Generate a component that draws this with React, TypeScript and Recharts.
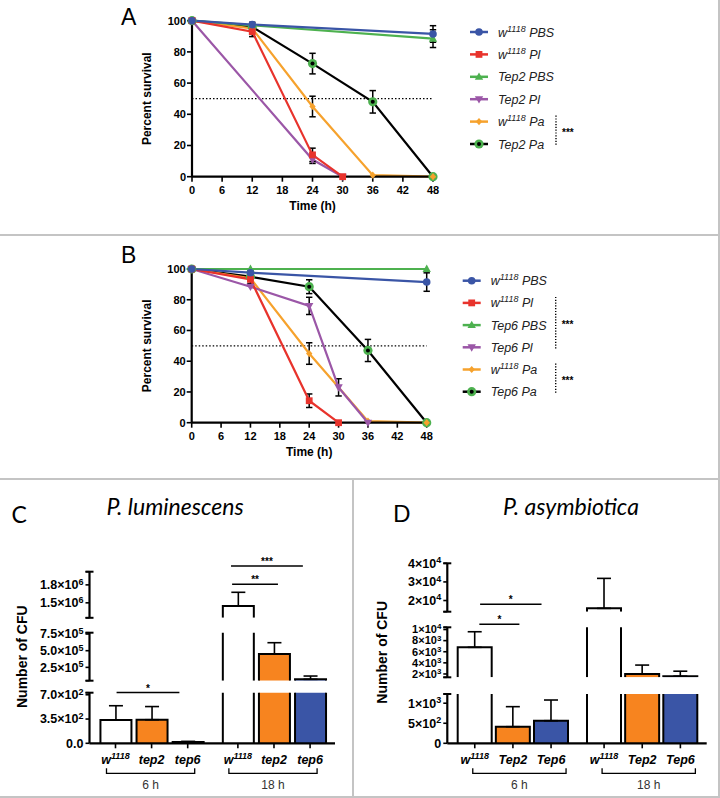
import React from 'react';
import { LineChart, Line, XAxis, YAxis, ErrorBar, ReferenceLine, BarChart, Bar } from 'recharts';

const FONT = '"Liberation Sans", Arial, Helvetica, sans-serif';
const SOFT_FONT = 'Lato, "Open Sans", sans-serif';

// ---------- survival (A, B) ----------
const timePoints = [0, 12, 24, 30, 36, 48];
const timeTicks = [0, 6, 12, 18, 24, 30, 36, 42, 48];
const survivalTicks = [0, 20, 40, 60, 80, 100];
const halfSurvival = 50;

const aNames = ['w1118 PBS', 'w1118 Pl', 'Tep2 PBS', 'Tep2 Pl', 'w1118 Pa', 'Tep2 Pa'];
const aSurvival = [
  [100, 97.5, null, null, null, 91.5],
  [100, 93, 14, 0, null, null],
  [100, 97, null, null, null, 88.5],
  [100, null, 11, 0, null, null],
  [100, 95, 45, null, 1, 0],
  [100, 96, 72.5, null, 48, 0],
];
const aSem = [
  [0, 1.5, 0, 0, 0, 5.3],
  [0, 3.2, 4.3, 0, 0, 0],
  [0, 0, 0, 0, 0, 5.7],
  [0, 0, 2.5, 0, 0, 0],
  [0, 0, 6.6, 0, 0, 0],
  [0, 1.5, 6.6, 0, 7.2, 0],
];

const bNames = ['w1118 PBS', 'w1118 Pl', 'Tep6 PBS', 'Tep6 Pl', 'w1118 Pa', 'Tep6 Pa'];
const bSurvival = [
  [100, 97.6, null, null, null, 91.5],
  [100, 93.3, 14.3, 0, null, null],
  [100, 100, null, null, null, 100],
  [100, 88.5, 76, 23, 0, null],
  [100, 94, 45, null, 1, 0],
  [100, 95, 88.5, null, 47, 0],
];
const bSem = [
  [0, 1.2, 0, 0, 0, 6],
  [0, 2.7, 4.4, 0, 0, 0],
  [0, 0, 0, 0, 0, 0],
  [0, 0, 5.6, 5.6, 0, 0],
  [0, 0, 7, 0, 0, 0],
  [0, 1.5, 4.5, 0, 7.2, 0],
];

const seriesColors = ['#3a55a6', '#e8332c', '#4db14f', '#9b57a7', '#f6a22d', '#000000'];
const seriesShapes = ['circle', 'square', 'tri', 'tridown', 'diamond', 'ring'];

// ---------- CFU (C, D) ----------
const barSlots = [0, 1, 2, 3.39, 4.39, 5.39];
const slotDomain = [-0.72, 6.08];
const timeGroups = ['6 h', '18 h'];
const barColors = ['#ffffff', '#f7841f', '#3a55a6'];

const cLabels = ['w1118', 'tep2', 'tep6', 'w1118', 'tep2', 'tep6'];
const cMeans = [336, 340, 20, 1.447e6, 4.5e5, 7.1e4];
const cSem = [206, 190, 8, 2.29e5, 1.7e5, 4.9e4];
const cTopDomain = [1.25e6, 2.02e6];
const cTopTicks = [1.5e6, 1.8e6];
const cMidDomain = [5e4, 7.7e5];
const cMidTicks = [2.5e5, 5e5, 7.5e5];
const cLowDomain = [0, 730];
const cLowTicks = [0, 350, 700];
const cSignif = [
  { from: 0.03, to: 1.77, level: 732, stars: '*', seg: 2 },
  { from: 3.23, to: 4.5, level: 1.81e6, stars: '**', seg: 0 },
  { from: 3.2, to: 5.19, level: 2.115e6, stars: '***', seg: 0 },
];

const dLabels = ['w1118', 'Tep2', 'Tep6', 'w1118', 'Tep2', 'Tep6'];
const dMeans = [6800, 414, 564, 15800, 2000, 1600];
const dSem = [2800, 500, 516, 16100, 1600, 900];
const dTopDomain = [1.4e4, 4e4];
const dTopTicks = [2e4, 3e4, 4e4];
const dMidDomain = [1400, 10400];
const dMidTicks = [2000, 4000, 6000, 8000, 10000];
const dLowDomain = [0, 1230];
const dLowTicks = [0, 500, 1000];
const dSignif = [
  { from: 0.14, to: 1.75, level: 1.8e4, stars: '*', seg: 0 },
  { from: 0.12, to: 1.17, level: 10940, stars: '*', seg: 1 },
];

// ---------- helpers ----------
function nameParts(n: string) {
  return n.startsWith('w1118') ? ['w', '1118', n.slice(5)] : [n, '', ''];
}

function Marker({ shape, cx, cy, color }: any) {
  if (cx == null || cy == null || Number.isNaN(cy)) return <g />;
  switch (shape) {
    case 'circle':
      return <circle cx={cx} cy={cy} r={3.8} fill={color} />;
    case 'square':
      return <rect x={cx - 3.4} y={cy - 3.4} width={6.8} height={6.8} fill={color} />;
    case 'tri':
      return <polygon points={`${cx},${cy - 4.4} ${cx + 4.2},${cy + 3} ${cx - 4.2},${cy + 3}`} fill={color} />;
    case 'tridown':
      return <polygon points={`${cx},${cy + 4.4} ${cx + 4.2},${cy - 3} ${cx - 4.2},${cy - 3}`} fill={color} />;
    case 'diamond':
      return <polygon points={`${cx},${cy - 3.6} ${cx + 3.2},${cy} ${cx},${cy + 3.6} ${cx - 3.2},${cy}`} fill={color} />;
    default:
      return (
        <g>
          <circle cx={cx} cy={cy} r={4.6} fill="#4db14f" />
          <circle cx={cx} cy={cy} r={2} fill="#000" />
        </g>
      );
  }
}

function SurvivalChart({ top, height, plot, survival, sem }: any) {
  const data = timePoints.map((t, i) => {
    const row: any = { t };
    survival.forEach((s: any[], k: number) => {
      row['s' + k] = s[i];
      row['e' + k] = s[i] == null ? null : sem[k][i];
    });
    return row;
  });
  const yAxisW = 60;
  const xAxisH = 33;
  const margin = {
    top: plot.top - top,
    left: plot.left - yAxisW,
    right: 720 - plot.right,
    bottom: top + height - plot.bottom - xAxisH,
  };
  const tickStyle = { fill: '#000', fontSize: 11, fontWeight: 700, fontFamily: FONT };
  const order = [5, 4, 3, 2, 1, 0];
  return (
    <div style={{ position: 'absolute', left: 0, top }}>
      <LineChart width={720} height={height} data={data} margin={margin}>
        <XAxis
          type="number"
          dataKey="t"
          domain={[0, 48]}
          ticks={timeTicks}
          interval={0}
          height={xAxisH}
          tickSize={5}
          tickMargin={4}
          axisLine={{ stroke: '#000', strokeWidth: 2.2 }}
          tickLine={{ stroke: '#000', strokeWidth: 1.6 }}
          tick={tickStyle}
          label={{ value: 'Time (h)', position: 'insideBottom', offset: 0, style: { fontSize: 12, fontWeight: 700, fill: '#000', fontFamily: FONT } }}
        />
        <YAxis
          type="number"
          domain={[0, 100]}
          ticks={survivalTicks}
          interval={0}
          width={yAxisW}
          tickSize={5}
          tickMargin={1}
          axisLine={{ stroke: '#000', strokeWidth: 2.2 }}
          tickLine={{ stroke: '#000', strokeWidth: 1.6 }}
          tick={tickStyle}
          label={{ value: 'Percent survival', angle: -90, position: 'insideLeft', offset: 14.7, style: { textAnchor: 'middle', fontSize: 12, fontWeight: 700, fill: '#000', fontFamily: FONT } }}
        />
        <ReferenceLine y={halfSurvival} stroke="#000" strokeWidth={1.3} strokeDasharray="1.5 2" />
        {order.map((k) => (
          <Line
            key={k}
            dataKey={'s' + k}
            type="linear"
            stroke={seriesColors[k]}
            strokeWidth={2.2}
            connectNulls
            isAnimationActive={false}
            dot={(p: any) => <Marker key={`m${k}-${p.index}`} shape={seriesShapes[k]} cx={p.cx} cy={p.cy} color={seriesColors[k]} />}
          >
            <ErrorBar dataKey={'e' + k} width={3.2} strokeWidth={1.5} stroke="#000" direction="y" />
          </Line>
        ))}
      </LineChart>
    </div>
  );
}

function SurvivalLegend({ names, x, y, step, brackets, bracketX }: any) {
  return (
    <g>
      {names.map((n: string, i: number) => {
        const [a, sup, rest] = nameParts(n);
        const cy = y + i * step;
        return (
          <g key={i}>
            <line x1={x} x2={x + 18} y1={cy} y2={cy} stroke={seriesColors[i]} strokeWidth={2.5} />
            <Marker shape={seriesShapes[i]} cx={x + 9} cy={cy} color={seriesColors[i]} />
            <text x={x + 28} y={cy + 4.5} fontSize={12.5} fontStyle="italic" fontFamily={FONT} fill="#222">
              {a}
              {sup && (
                <tspan dy={-5} fontSize={9}>
                  {sup}
                </tspan>
              )}
              {sup ? <tspan dy={5}>{rest}</tspan> : null}
            </text>
          </g>
        );
      })}
      {brackets.map((b: any, i: number) => {
        const y1 = y + b[0] * step - 6;
        const y2 = y + b[1] * step + 2;
        return (
          <g key={'b' + i}>
            <line x1={bracketX} x2={bracketX} y1={y1} y2={y2} stroke="#000" strokeWidth={1.4} strokeDasharray="1.2 1.6" />
            <text x={bracketX + 6} y={(y1 + y2) / 2 + 5} fontSize={10} fontWeight={700} fontFamily={FONT} fill="#000">
              ***
            </text>
          </g>
        );
      })}
    </g>
  );
}

function sci(v: number, decimals: number) {
  if (v === 0) return { m: (0).toFixed(decimals), e: null as number | null };
  const e = Math.floor(Math.log10(v) + 1e-9);
  return { m: (v / Math.pow(10, e)).toFixed(decimals), e };
}

function CfuYTick({ x, y, payload, labelled, ends, decimals, fs }: any) {
  const v = payload.value;
  const ax = x + 6;
  const isEnd = ends.includes(v) && v !== 0;
  const s = sci(v, decimals);
  return (
    <g>
      {isEnd && <line x1={ax - 4} x2={ax + 4} y1={y} y2={y} stroke="#000" strokeWidth={2} />}
      {labelled.includes(v) && (
        <text x={x} y={y + fs * 0.35} textAnchor="end" fontSize={fs} fontWeight={700} fontFamily={FONT} fill="#000">
          {s.m}
          {s.e !== null && '×10'}
          {s.e !== null && (
            <tspan dy={-fs * 0.36} fontSize={fs * 0.72}>
              {s.e}
            </tspan>
          )}
        </text>
      )}
    </g>
  );
}

function CfuXTick({ x, y, index, labels, unitPx, bracket }: any) {
  const [a, sup] = nameParts(labels[index]);
  const group = index % 3 === 1 ? timeGroups[Math.floor(index / 3)] : null;
  const bl = x - unitPx + bracket[0];
  const br = x + unitPx + bracket[1];
  return (
    <g>
      <text x={x} y={y + 14} textAnchor="middle" fontSize={12.5} fontStyle="italic" fontWeight={700} fontFamily={FONT} fill="#000">
        {a}
        {sup && (
          <tspan dy={-5} fontSize={9}>
            {sup}
          </tspan>
        )}
      </text>
      {group && (
        <g>
          <path d={`M${bl},${y + 18} V${y + 23} H${br} V${y + 18}`} fill="none" stroke="#000" strokeWidth={1.3} />
          <text x={(bl + br) / 2} y={y + 39} textAnchor="middle" fontSize={12} fontFamily={FONT} fill="#333">
            {group}
          </text>
        </g>
      )}
    </g>
  );
}

function OpenBar(p: any) {
  const { x, y, width, height, value, payload } = p;
  if (value == null || height == null || Number.isNaN(y) || height <= 0) return <g />;
  const idx = barSlots.indexOf(payload?.slot);
  const fill = barColors[(idx < 0 ? 0 : idx) % 3];
  return (
    <g>
      <rect x={x} y={y} width={width} height={height} fill={fill} />
      <path d={`M${x},${y + height} V${y} H${x + width} V${y + height}`} fill="none" stroke="#000" strokeWidth={2} />
    </g>
  );
}

function CfuPanel({ left, width, plotLeft, plotRight, barSize, labels, means, sem, segs, signif, decimals, bracket, yLabelOffset, tickFont }: any) {
  const top = 479;
  const height = 319;
  const yAxisW = 80;
  const xAxisH = 50;
  const unitPx = (plotRight - plotLeft) / (slotDomain[1] - slotDomain[0]);
  return (
    <div style={{ position: 'absolute', left, top, width, height }}>
      {segs.map((s: any, si: number) => {
        const last = si === segs.length - 1;
        const data = barSlots.map((slot, i) => {
          const inSeg = means[i] > s.domain[0];
          const capHere = inSeg && means[i] <= s.domain[1];
          return { slot, v: inSeg ? means[i] : null, e: capHere ? [0, sem[i]] : null };
        });
        const margin = {
          top: s.top - top,
          bottom: top + height - s.bottom - (last ? xAxisH : 0),
          left: plotLeft - left - yAxisW,
          right: left + width - plotRight,
        };
        const ends = [s.domain[0], s.domain[1]];
        const yTicks = Array.from(new Set([...ends, ...s.ticks])).sort((a: number, b: number) => a - b);
        const fs = s.ticks.length > 3 ? tickFont - 1.5 : tickFont;
        return (
          <div key={si} style={{ position: 'absolute', left: 0, top: 0 }}>
            <BarChart width={width} height={height} data={data} margin={margin}>
              <XAxis
                type="number"
                dataKey="slot"
                domain={slotDomain}
                ticks={barSlots}
                interval={0}
                hide={!last}
                height={xAxisH}
                tickSize={5}
                tickMargin={2}
                axisLine={{ stroke: '#000', strokeWidth: 2.2 }}
                tickLine={{ stroke: '#000', strokeWidth: 1.6 }}
                tick={(p: any) => <CfuXTick {...p} labels={labels} unitPx={unitPx} bracket={bracket} />}
              />
              <YAxis
                type="number"
                domain={s.domain}
                allowDataOverflow
                ticks={yTicks}
                interval={0}
                width={yAxisW}
                tickSize={4}
                tickMargin={2}
                axisLine={{ stroke: '#000', strokeWidth: 2.2 }}
                tickLine={{ stroke: '#000', strokeWidth: 1.6 }}
                tick={(p: any) => <CfuYTick {...p} labelled={s.ticks} ends={ends} decimals={decimals} fs={fs} />}
                label={
                  si === 1
                    ? { value: 'Number of CFU', angle: -90, position: 'insideLeft', offset: yLabelOffset, style: { textAnchor: 'middle', fontSize: 14, fontWeight: 700, fill: '#000', fontFamily: FONT } }
                    : undefined
                }
              />
              <Bar dataKey="v" barSize={barSize} isAnimationActive={false} shape={(p: any) => <OpenBar {...p} />}>
                <ErrorBar dataKey="e" width={7} strokeWidth={1.6} stroke="#000" direction="y" />
              </Bar>
              {signif
                .filter((g: any) => g.seg === si)
                .map((g: any, gi: number) => (
                  <ReferenceLine
                    key={gi}
                    segment={[
                      { x: g.from, y: g.level },
                      { x: g.to, y: g.level },
                    ]}
                    ifOverflow="visible"
                    stroke="#000"
                    strokeWidth={1.6}
                    label={{ value: g.stars, position: 'top', offset: 1, fontSize: 10, fontWeight: 700, fill: '#000', fontFamily: FONT }}
                  />
                ))}
            </BarChart>
          </div>
        );
      })}
    </div>
  );
}

export default function App() {
  const cSegs = [
    { domain: cTopDomain, ticks: cTopTicks, top: 571.7, bottom: 617.8 },
    { domain: cMidDomain, ticks: cMidTicks, top: 632.7, bottom: 680.7 },
    { domain: cLowDomain, ticks: cLowTicks, top: 692.7, bottom: 743.3 },
  ];
  const dSegs = [
    { domain: dTopDomain, ticks: dTopTicks, top: 563.3, bottom: 611.7 },
    { domain: dMidDomain, ticks: dMidTicks, top: 627.3, bottom: 677.3 },
    { domain: dLowDomain, ticks: dLowTicks, top: 694, bottom: 743.3 },
  ];
  return (
    <div style={{ position: 'absolute', left: 0, top: 0, width: 720, height: 798, background: '#fff', fontFamily: FONT }}>
      <SurvivalChart top={0} height={235} plot={{ left: 192, right: 433, top: 20.7, bottom: 176.7 }} survival={aSurvival} sem={aSem} />
      <SurvivalChart top={235} height={244} plot={{ left: 191.7, right: 426.7, top: 269, bottom: 422.7 }} survival={bSurvival} sem={bSem} />
      <CfuPanel
        left={0}
        width={353}
        plotLeft={89.5}
        plotRight={335}
        barSize={31}
        labels={cLabels}
        means={cMeans}
        sem={cSem}
        segs={cSegs}
        signif={cSignif}
        decimals={1}
        bracket={[-9, 7]}
        yLabelOffset={12.2}
        tickFont={12.5}
      />
      <CfuPanel
        left={353}
        width={366}
        plotLeft={447.3}
        plotRight={706.7}
        barSize={34}
        labels={dLabels}
        means={dMeans}
        sem={dSem}
        segs={dSegs}
        signif={dSignif}
        decimals={0}
        bracket={[-2, 15]}
        yLabelOffset={14.4}
        tickFont={12.5}
      />
      <svg width={720} height={798} style={{ position: 'absolute', left: 0, top: 0, pointerEvents: 'none' }}>
        <g stroke="#c4c4c4" strokeWidth={2}>
          <line x1={0} x2={720} y1={235} y2={235} />
          <line x1={0} x2={720} y1={479} y2={479} />
          <line x1={353} x2={353} y1={479} y2={798} />
          <line x1={719} x2={719} y1={0} y2={798} />
          <line x1={0} x2={720} y1={797} y2={797} />
        </g>
        <text x={121} y={25} fontSize={23} fontFamily={FONT} fill="#000">A</text>
        <text x={121} y={263.3} fontSize={23} fontFamily={FONT} fill="#000">B</text>
        <text x={11.5} y={523.3} fontSize={23} fontFamily={SOFT_FONT} fill="#000">C</text>
        <text x={393} y={521.7} fontSize={23} fontFamily={SOFT_FONT} fill="#000">D</text>
        <text x={175} y={515} textAnchor="middle" fontSize={23} fontStyle="italic" fontFamily={SOFT_FONT} fill="#000">P. luminescens</text>
        <text x={571} y={515} textAnchor="middle" fontSize={23} fontStyle="italic" fontFamily={SOFT_FONT} fill="#000">P. asymbiotica</text>
        <SurvivalLegend names={aNames} x={470} y={32} step={22.4} brackets={[[4, 5]]} bracketX={556} />
        <SurvivalLegend names={bNames} x={462.7} y={280.7} step={22.2} brackets={[[1, 3], [4, 5]]} bracketX={555.7} />
      </svg>
    </div>
  );
}
